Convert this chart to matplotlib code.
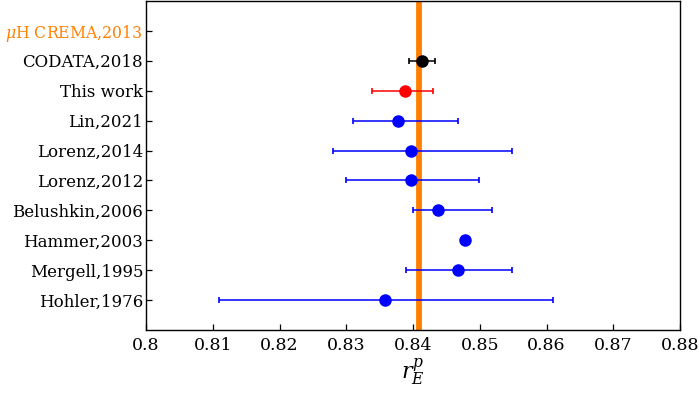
"""
Proton charge radius comparison (r_E^p) -- forest plot.
"""

import numpy as np
import matplotlib
matplotlib.use("Agg")
import matplotlib.pyplot as plt

# ── data ───────────────────────────────────────────
labels  = ["Hohler,1976", "Mergell,1995", "Hammer,2003", "Belushkin,2006",
           "Lorenz,2012", "Lorenz,2014", "Lin,2021", "This work",
           "CODATA,2018", r"$\mu$H CREMA,2013"]
centers = [0.8358, 0.8468, 0.8478, 0.8438, 0.8397, 0.8397, 0.8378, 0.8388, 0.8413]
lows    = [0.8109, 0.8389, 0.8478, 0.8400, 0.8299, 0.8280, 0.8310, 0.8339, 0.8394]
highs   = [0.8610, 0.8549, 0.8478, 0.8519, 0.8499, 0.8549, 0.8468, 0.8430, 0.8433]
muh_val, muh_err = 0.84087, 0.00039
xticks  = [0.80, 0.81, 0.82, 0.83, 0.84, 0.85, 0.86, 0.87, 0.88]
xtick_labels = ["0.8", "0.81", "0.82", "0.83", "0.84", "0.85", "0.86", "0.87", "0.88"]
# ───────────────────────────────────────────────────

plt.rcParams["font.family"] = "DejaVu Serif"
plt.rcParams["mathtext.fontset"] = "dejavuserif"

ORANGE = "#FF8000"
colors = ["blue"] * 7 + ["red", "black"]

fig = plt.figure(figsize=(7, 3.96), dpi=100)
ax = fig.add_axes([146/700, 1 - 330/396, 534/700, 329/396])

# muonic hydrogen band
ax.axvspan(muh_val - muh_err, muh_val + muh_err, color=ORANGE, lw=0.6, zorder=1)

ypos = np.arange(1, len(labels) + 1)
c = np.array(centers); lo = np.array(lows); hi = np.array(highs)
for i in range(len(centers)):
    ax.errorbar(c[i], ypos[i], xerr=[[c[i] - lo[i]], [hi[i] - c[i]]],
                fmt="o", color=colors[i], ms=8, elinewidth=1.1,
                capsize=2.3, capthick=1.2, zorder=3)

ax.set_xlim(0.80, 0.88)
ax.set_ylim(0, len(labels) + 1)
ax.set_xticks(xticks)
ax.set_xticklabels(xtick_labels, fontsize=12.5)
ax.set_yticks(ypos)
ax.set_yticklabels(labels, fontsize=12)
top = ax.get_yticklabels()[-1]
top.set_color(ORANGE)
top.set_fontsize(11.3)
ax.tick_params(direction="in", length=4, width=0.9, pad=5)
ax.tick_params(axis="y", pad=2)
for s in ax.spines.values():
    s.set_linewidth(1.0)
ax.set_xlabel(r"$r_E^p$", fontsize=16, labelpad=2)

fig.savefig("out.png", dpi=100)
